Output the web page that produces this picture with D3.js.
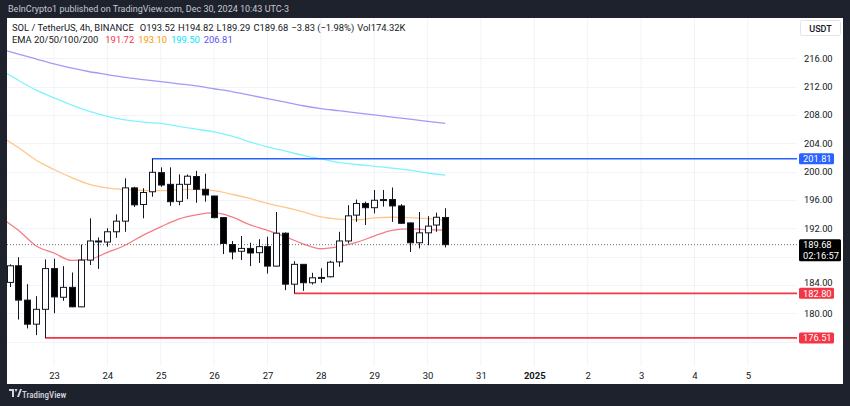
<!DOCTYPE html>
<html><head><meta charset="utf-8">
<script src="https://cdn.jsdelivr.net/npm/d3@7"></script>
<style>html,body{margin:0;padding:0;background:#1e222d;}svg{display:block;font-family:Roboto,"Noto Sans",sans-serif;}</style>
</head><body><svg id="c" width="850" height="406"></svg>
<script>
// ---------- data ----------
const firstCandle = Date.UTC(2024, 11, 22, 4); // Dec 22 04:00, 4h candles
const candleOpen  = [184.35,186.7,181.85,178.45,180.55,186.3,182.25,183.65,180.9,187.5,190.2,190.05,191.5,193.0,197.7,195.35,197.15,199.85,198.2,195.8,198.2,199.3,197.5,196.55,193.5,189.7,188.75,189.15,188.55,189.4,186.65,191.3,184.1,186.9,184.3,185.0,185.15,187.25,190.2,193.85,195.5,194.9,196.0,196.05,195.15,192.75,189.95,191.35,192.45,193.52];
const candleHigh  = [186.9,187.9,184.1,182.4,187.6,187.7,186.65,185.75,189.7,193.4,190.7,192.0,193.95,199.05,197.85,197.65,201.81,200.6,200.6,199.6,199.6,200.1,199.7,196.6,193.5,190.2,190.9,189.95,190.45,190.8,194.3,191.4,187.35,186.95,185.7,186.35,187.4,191.5,195.25,196.05,195.75,197.4,197.4,197.75,195.4,192.8,194.3,193.7,194.2,194.82];
const candleLow   = [183.7,179.1,177.85,176.9,176.51,180.0,181.75,180.85,180.85,186.8,186.25,189.4,190.65,191.5,195.0,193.4,196.45,197.85,195.15,195.25,196.1,195.6,195.75,193.4,188.35,187.6,187.5,186.65,187.1,185.6,186.6,183.25,182.80,183.15,184.05,184.3,185.05,186.55,189.85,192.9,192.45,194.1,195.05,192.9,192.6,188.65,189.15,189.6,191.5,189.29];
const candleClose = [186.7,181.85,178.45,180.55,186.3,182.3,183.65,180.9,187.5,190.2,190.1,191.5,193.0,197.7,195.3,197.05,199.9,198.1,195.75,198.2,199.35,197.5,196.7,193.5,189.85,188.65,189.15,188.5,189.4,186.65,191.3,184.1,186.9,184.3,185.0,185.05,187.2,190.2,193.75,195.5,194.9,195.95,196.05,195.15,192.7,189.95,191.35,192.3,193.55,189.68];

// EMA samples at 4h-candle index counted from Dec 22 00:00
const emaIdx    = [0,2,4,6,8,10,12,14,16,18,20,22,24,26,28,30,32,34,36,38,40,42,44,46,48,50];
const ema20     = [193.5,191.7,189.5,188.5,187.45,187.6,188.6,189.6,191.0,192.2,193.3,193.9,194.2,193.6,192.5,191.7,190.8,189.8,189.1,189.4,190.0,190.9,191.7,191.9,191.8,191.72];
const ema50     = [205.0,203.4,201.6,200.3,199.15,198.2,197.7,197.45,197.35,197.3,197.45,197.5,197.3,196.8,196.2,195.5,194.95,194.3,193.6,193.3,193.2,193.45,193.55,193.5,193.35,193.10];
const ema100    = [214.4,212.9,211.5,210.4,209.4,208.5,207.8,207.3,207.0,206.8,206.4,206.0,205.6,205.0,204.2,203.5,202.9,202.3,201.8,201.3,201.0,200.75,200.5,200.2,199.8,199.5];
const ema200    = [217.3,216.6,215.9,215.2,214.6,214.1,213.7,213.3,213.0,212.7,212.4,212.1,211.7,211.3,210.8,210.3,209.8,209.3,208.9,208.6,208.3,208.0,207.7,207.4,207.1,206.81];
const emaLast   = ["191.72","193.10","199.50","206.81"];

const priceTicks  = [176,180,184,188,192,196,200,204,208,212,216];
const priceLabels = [180,184,192,196,200,204,208,212,216]; // 176 and 188 sit under the price tags
const dateTicks  = [[2024,11,23],[2024,11,24],[2024,11,25],[2024,11,26],[2024,11,27],[2024,11,28],[2024,11,29],[2024,11,30],[2024,11,31],[2025,0,1],[2025,0,2],[2025,0,3],[2025,0,4],[2025,0,5]];
const dateLabels = ["23","24","25","26","27","28","29","30","31","2025","2","3","4","5"];

// levels: price and candle number (1-based) where the line starts
const levelPrices = [201.81, 182.80, 176.51];
const levelStart  = [17, 33, 5];
const lastPrice = 189.68, countdown = "02:16:57";

// ---------- layout ----------
const svg = d3.select("#c");
const P = {l:7, r:797, t:18, b:366};
const x = d3.scaleUtc().domain([Date.UTC(2024,11,23), Date.UTC(2025,0,5)]).range([54, 747.8]);
const y = d3.scaleLinear().domain([180, 216]).range([313.2, 58.3]);
const cTime = i => new Date(firstCandle + i*4*3600e3);
const eTime = i => new Date(Date.UTC(2024,11,22) + i*4*3600e3);

svg.append("rect").attr("width",850).attr("height",406).attr("fill","#1e222d");
svg.append("text").attr("x",8).attr("y",12).attr("font-size",9).attr("fill","#c5c8d1")
  .text("BeInCrypto1 published on TradingView.com, Dec 30, 2024 10:43 UTC-3");
svg.append("rect").attr("x",7).attr("y",18).attr("width",836).attr("height",366).attr("fill","#fff");

svg.append("defs").append("clipPath").attr("id","pc").append("rect")
  .attr("x",P.l).attr("y",P.t).attr("width",P.r-P.l).attr("height",P.b-P.t);
const plot = svg.append("g").attr("clip-path","url(#pc)");

// grid
const dts = dateTicks.map(d=>new Date(Date.UTC(d[0],d[1],d[2])));
plot.append("g").selectAll("line").data(dts).join("line")
  .attr("x1",d=>x(d)).attr("x2",d=>x(d)).attr("y1",P.t).attr("y2",P.b)
  .attr("stroke","#f0f3fa").attr("stroke-width",1);
plot.append("g").selectAll("line").data(priceTicks).join("line")
  .attr("x1",P.l).attr("x2",P.r).attr("y1",d=>Math.round(y(d))+0.5).attr("y2",d=>Math.round(y(d))+0.5)
  .attr("stroke","#f0f3fa").attr("stroke-width",1);

// EMAs
const emaSeries = [ema20, ema50, ema100, ema200];
const emaColors = ["#f23645","#ff9800","#00e5ff","#5b4ef5"];
const emaLineCol = ["#f77c84","#ffc68a","#80f3ff","#a29af7"];
const line = d3.line().x(d=>x(d[0])).y(d=>y(d[1])).curve(d3.curveMonotoneX);
emaSeries.forEach((s,k)=>{
  plot.append("path").datum(emaIdx.map((t,i)=>[eTime(t), s[i]]))
    .attr("d", line).attr("fill","none").attr("stroke", emaLineCol[k]).attr("stroke-width",1.3);
});

// last price dotted line
plot.append("line").attr("x1",P.l).attr("x2",P.r).attr("y1",y(lastPrice)).attr("y2",y(lastPrice))
  .attr("stroke","#707070").attr("stroke-width",1).attr("stroke-dasharray","1,2");

// levels
const levelCol = ["#2962ff","#f23645","#f23645"];
levelPrices.forEach((p,k)=>{
  plot.append("line").attr("x1",x(cTime(levelStart[k]-1))).attr("x2",P.r+2)
    .attr("y1",y(p)).attr("y2",y(p)).attr("stroke",levelCol[k]).attr("stroke-width",1.6);
});

// candles
const bw = 6;
const cg = plot.append("g");
candleOpen.forEach((o,i)=>{
  const cx = Math.round(x(cTime(i)))+0.5, c = candleClose[i];
  const up = c >= o;
  cg.append("line").attr("x1",cx).attr("x2",cx).attr("y1",y(candleHigh[i])).attr("y2",y(candleLow[i]))
    .attr("stroke","#131722").attr("stroke-width",1);
  const top = y(Math.max(o,c)), bot = y(Math.min(o,c));
  cg.append("rect").attr("x",cx-bw/2).attr("y",top).attr("width",bw).attr("height",Math.max(1,bot-top))
    .attr("fill", up ? "#ffffff" : "#000000").attr("stroke","#131722").attr("stroke-width",1);
});

// price axis
const yAxis = d3.axisRight(y).tickValues(priceLabels).tickSize(0).tickPadding(0).tickFormat(d3.format(".2f"));
const ya = svg.append("g").attr("transform",`translate(804,0)`).call(yAxis);
ya.select(".domain").remove();
ya.selectAll("text").attr("font-size",9.3).attr("fill","#131722").attr("font-family","Roboto,sans-serif")
  .attr("dy",(d)=>d===184?"0.1em":"0.32em");

// date axis
const xAxis = d3.axisBottom(x).tickValues(dts).tickSize(0).tickPadding(0).tickFormat((d,i)=>dateLabels[i]);
const xa = svg.append("g").attr("transform",`translate(0,${P.b+6})`).call(xAxis);
xa.select(".domain").remove();
xa.selectAll("text").attr("font-size",9.5).attr("fill","#131722").attr("font-family","Roboto,sans-serif")
  .attr("font-weight",(d,i)=>dateLabels[i]==="2025"?"bold":"normal");

// USDT box
svg.append("rect").attr("x",800.5).attr("y",20.5).attr("width",40).attr("height",15).attr("rx",2)
  .attr("fill","#fff").attr("stroke","#e0e3eb");
svg.append("text").attr("x",820.5).attr("y",31.5).attr("text-anchor","middle").attr("font-size",9)
  .attr("font-weight",500).attr("fill","#131722").text("USDT");

// price tags
function tag(p, col, w, h, lines){
  const g = svg.append("g");
  g.append("rect").attr("x",799).attr("y",y(p)-h/2 + (lines.length>1?5.5:0)).attr("width",w).attr("height",h).attr("rx",1.5).attr("fill",col);
  lines.forEach((t,i)=>g.append("text").attr("x",803).attr("y",y(p)+3.4+i*10.5).attr("font-size",9.3).attr("fill","#fff").text(t));
}
levelPrices.forEach((p,k)=>tag(p, levelCol[k], 35, 11, [d3.format(".2f")(p)]));
tag(lastPrice, "#000", 42, 22, [d3.format(".2f")(lastPrice), countdown]);

// legend
const last = candleOpen.length-1;
const lg1 = svg.append("text").attr("x",12).attr("y",30.5).attr("font-size",9.4).attr("fill","#131722");
lg1.append("tspan").text("SOL / TetherUS, 4h, BINANCE");
lg1.append("tspan").attr("dx",6).text("O"+candleOpen[last].toFixed(2));
lg1.append("tspan").attr("dx",3).text("H"+candleHigh[last].toFixed(2));
lg1.append("tspan").attr("dx",3).text("L"+candleLow[last].toFixed(2));
lg1.append("tspan").attr("dx",3).text("C"+candleClose[last].toFixed(2));
lg1.append("tspan").attr("dx",3).text("−3.83 (−1.98%)");
lg1.append("tspan").attr("dx",3).text("Vol174.32K");
const lg2 = svg.append("text").attr("x",12).attr("y",42.5).attr("font-size",9.4).attr("fill","#131722");
lg2.append("tspan").text("EMA 20/50/100/200");
emaLast.forEach((v,k)=>lg2.append("tspan").attr("dx",k?4:7).attr("fill",emaColors[k]).text(v));

// footer logo
const f = svg.append("g").attr("transform","translate(9,389)").attr("fill","#d1d4dc");
f.append("path").attr("d","M0,0H5V8H3V2H0Z M5.5,0H8.5L7,3Z M8,8L11,0H13L10,8Z");
svg.append("text").attr("x",22).attr("y",397.5).attr("font-size",9).attr("font-weight",500)
  .attr("fill","#d1d4dc").attr("font-family","'Roboto Condensed',Roboto,sans-serif").text("TradingView");
</script></body></html>
